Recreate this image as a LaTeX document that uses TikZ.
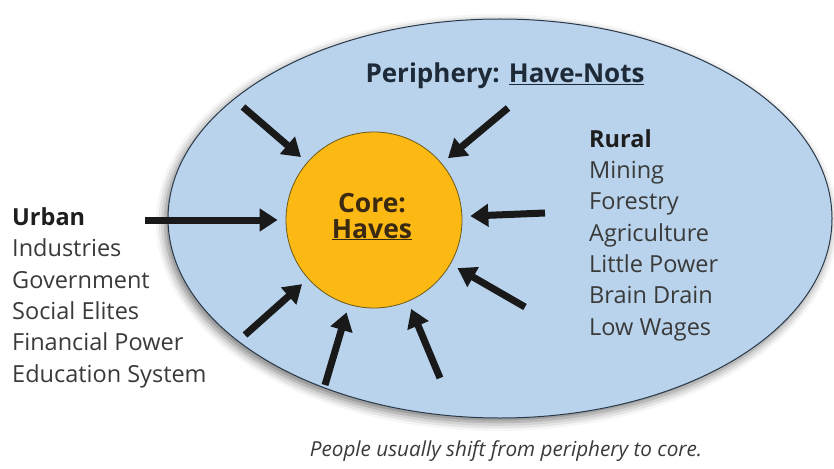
\documentclass[tikz,border=0pt]{standalone}
\usepackage{fontspec}
\setmainfont{Open Sans}
\usetikzlibrary{arrows.meta,shadows.blur,shapes.geometric}
\definecolor{periph}{HTML}{B8D3EB}
\definecolor{periphline}{HTML}{2B3A4A}
\definecolor{corefill}{HTML}{FDB913}
\definecolor{coreline}{HTML}{6B5A1A}
\definecolor{listtext}{HTML}{3A3A3A}
\definecolor{headtext}{HTML}{1E1E1E}
\definecolor{titletext}{HTML}{1E2A38}
\definecolor{coretext}{HTML}{3B2A12}
\tikzset{
  listblock/.style={anchor=base west, align=left, inner sep=0pt, text=listtext,
    font=\fontsize{23.5}{31.3}\selectfont},
  inarrow/.style={draw=black!90, line width=7pt,
    -{Triangle[width=22pt,length=18pt]}, shorten >=8pt},
}
\begin{document}
\begin{tikzpicture}[x=1pt,y=-1pt]
\useasboundingbox (0,0) rectangle (834,468);
% periphery ellipse
\node[draw=periphline, line width=1pt, fill=periph, ellipse,
  minimum width=664pt, minimum height=399pt, inner sep=0pt,
  blur shadow={shadow xshift=-3pt, shadow yshift=-4pt, shadow blur radius=9pt, shadow opacity=55}]
  (periphery) at (500,218.5) {};
% core circle
\node[circle, draw=coreline, line width=0.8pt, fill=corefill, minimum size=176pt, inner sep=0pt]
  (core) at (374,220) {};
\node[anchor=base, inner sep=0pt, text=coretext,
  font=\fontsize{26.5}{26.5}\selectfont\bfseries] (coretxt) at (372,212) {Core:};
\node[anchor=base, inner sep=0pt, text=coretext,
  font=\fontsize{26.5}{26.5}\selectfont\bfseries] (havestxt) at (372,238) {\underline{Haves}};
% title
\node[anchor=base, inner sep=0pt, text=titletext, font=\fontsize{26}{26}\selectfont\bfseries]
  (title) at (505,83) {Periphery: \underline{Have-Nots}};
% urban list (base anchor = baseline of last line)
\node[listblock] (urban) at (12,382) {{\color{headtext}\bfseries Urban}\\Industries\\Government\\Social Elites\\Financial Power\\Education System};
% rural list
\node[listblock] (rural) at (589,335) {{\color{headtext}\bfseries Rural}\\Mining\\Forestry\\Agriculture\\Little Power\\Brain Drain\\Low Wages};
% caption
\node[anchor=base, inner sep=0pt, text=listtext, font=\fontsize{20.7}{20.7}\selectfont\itshape]
  (caption) at (506,456) {People usually shift from periphery to core.};
% arrow starts
\coordinate (s1) at (243,107);
\coordinate (s2) at (508,108);
\coordinate (s3) at (145,220);
\coordinate (s4) at (545,213);
\coordinate (s5) at (525,307);
\coordinate (s6) at (245,335);
\coordinate (s7) at (325,385);
\coordinate (s8) at (440,378);
\foreach \s in {s1,s2,s3,s4,s5,s6,s7,s8}
  \draw[inarrow] (\s) -- (core);
\end{tikzpicture}
\end{document}
